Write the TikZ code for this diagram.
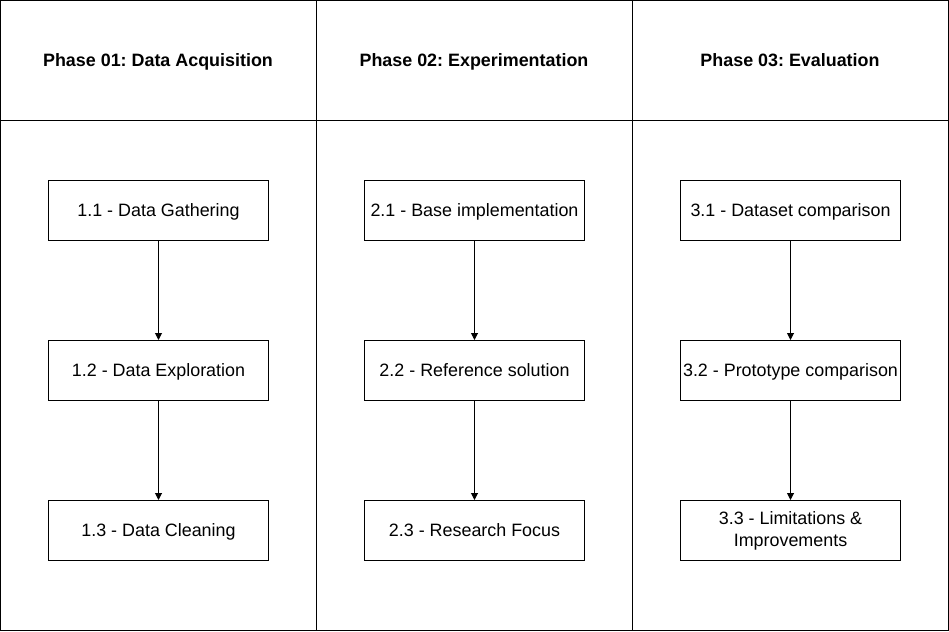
\documentclass[tikz,border=0pt]{standalone}
\usepackage{fontspec}
\setmainfont{Liberation Sans}
\frenchspacing
\usetikzlibrary{arrows.meta}
\newcommand{\capstrut}{\rule[-3.2pt]{0pt}{19.2pt}}
\begin{document}
\begin{tikzpicture}[x=1pt,y=-1pt,
  line width=1pt,
  stepbox/.style={draw, minimum width=220pt, minimum height=60pt, inner sep=0pt, font=\fontsize{17.9}{22}\selectfont, align=center, execute at begin node=\capstrut, execute at end node=\capstrut},
  head/.style={font=\bfseries\fontsize{17.9}{22}\selectfont, inner sep=0pt, execute at begin node=\capstrut},
  flow/.style={-{Triangle[length=7pt,width=7pt]}, line width=1pt}]
\useasboundingbox (0,0) rectangle (949,631);
\draw (0.5,0.5) rectangle (948.5,630.5);
\draw (0.5,120.5) -- (948.5,120.5);
\draw (316.5,0.5) -- (316.5,630.5);
\draw (632.5,0.5) -- (632.5,630.5);
\node[head] (h1) at (158,60) {Phase 01: Data Acquisition};
\node[head] (h2) at (474,60) {Phase 02: Experimentation};
\node[head] (h3) at (790,60) {Phase 03: Evaluation};
\node[stepbox] (a1) at (158.5,210.5) {1.1 - Data Gathering};
\node[stepbox] (a2) at (158.5,370.5) {1.2 - Data Exploration};
\node[stepbox] (a3) at (158.5,530.5) {1.3 - Data Cleaning};
\node[stepbox] (b1) at (474.5,210.5) {2.1 - Base implementation};
\node[stepbox] (b2) at (474.5,370.5) {2.2 - Reference solution};
\node[stepbox] (b3) at (474.5,530.5) {2.3 - Research Focus};
\node[stepbox] (c1) at (790.5,210.5) {3.1 - Dataset comparison};
\node[stepbox] (c2) at (790.5,370.5) {3.2 - Prototype comparison};
\node[stepbox] (c3) at (790.5,530.5) {3.3 - Limitations \&\\Improvements};
\draw[flow] (a1) -- (a2);
\draw[flow] (a2) -- (a3);
\draw[flow] (b1) -- (b2);
\draw[flow] (b2) -- (b3);
\draw[flow] (c1) -- (c2);
\draw[flow] (c2) -- (c3);
\end{tikzpicture}
\end{document}
